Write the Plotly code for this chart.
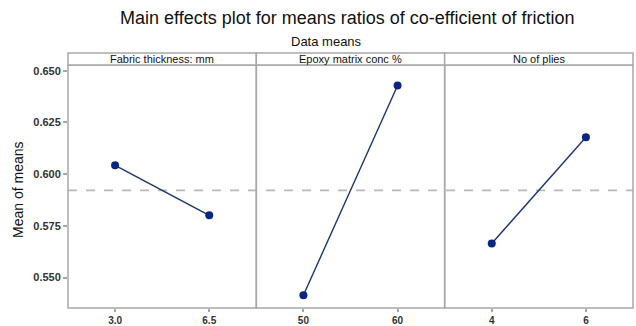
import plotly.graph_objects as go
from plotly.subplots import make_subplots

factors = ["Fabric thickness: mm", "Epoxy matrix conc %", "No of plies"]
levels = [[3.0, 6.5], [50, 60], [4, 6]]
level_labels = [["3.0", "6.5"], ["50", "60"], ["4", "6"]]
means = [[0.6043, 0.5801], [0.5415, 0.6429], [0.5665, 0.6179]]
y_ticks = [0.550, 0.575, 0.600, 0.625, 0.650]

grand_mean = sum(sum(m) for m in means) / sum(len(m) for m in means)

W, H = 636, 326
ml, mr, mt, mb = 68, 3, 65, 18
ph = H - mt - mb
pw = W - ml - mr

fig = make_subplots(rows=1, cols=3, shared_yaxes=True, horizontal_spacing=0)

border = "#a8a8a8"
tfont = dict(family="Liberation Sans", size=11, color="#333", weight="bold")
xfont = dict(family="Liberation Sans", size=10, color="#333", weight="bold")
for i in range(3):
    x = levels[i]
    d = x[1] - x[0]
    fig.add_trace(go.Scatter(
        x=x, y=means[i], mode="lines+markers",
        line=dict(color="#1c3570", width=1.4),
        marker=dict(color="#0b2680", size=8),
        showlegend=False), row=1, col=i + 1)
    fig.update_xaxes(domain=[i / 3, (i + 1) / 3],
                     range=[x[0] - d / 2, x[1] + d / 2], tickvals=x, ticktext=level_labels[i],
                     showgrid=False, zeroline=False, showline=False, automargin=False,
                     ticks="outside", ticklen=3, tickwidth=1.5,
                     tickcolor=border, tickfont=xfont, ticklabelstandoff=0,
                     row=1, col=i + 1)
    fig.update_yaxes(range=[0.5353, 0.6528], showgrid=False, zeroline=False, showline=False,
                     automargin=False, row=1, col=i + 1)

fig.update_yaxes(tickvals=y_ticks, tickformat=".3f", ticks="outside", ticklen=4, tickwidth=1.5,
                 tickcolor=border, tickfont=tfont, row=1, col=1)

# panel borders
for i in range(3):
    fig.add_shape(type="rect", xref="paper", yref="paper", x0=i / 3, x1=(i + 1) / 3, y0=0, y1=1,
                  line=dict(color=border, width=1.5), layer="above")

# reference line (grand mean)
fig.add_shape(type="line", xref="paper", yref="y", x0=0, x1=1, y0=grand_mean, y1=grand_mean,
              line=dict(color="#b8b8b8", width=1.6, dash="dash"), layer="below")

# header strips
strip_h = 12 / ph
for i in range(3):
    x0 = i / 3
    x1 = (i + 1) / 3
    fig.add_shape(type="rect", xref="paper", yref="paper", x0=x0, x1=x1, y0=1, y1=1 + strip_h,
                  line=dict(color=border, width=1.5), fillcolor="white")
    fig.add_annotation(xref="paper", yref="paper", x=(x0 + x1) / 2, y=1 + strip_h / 2,
                       text=factors[i], showarrow=False, xanchor="center", yanchor="middle",
                       font=dict(family="Liberation Sans", size=11, color="#111"))

fig.add_annotation(xref="paper", yref="paper", x=(347 - ml) / pw, y=1 + (mt - 18) / ph,
                   text="Main effects plot for means ratios of co-efficient of friction",
                   showarrow=False, xanchor="center", yanchor="middle",
                   font=dict(family="Liberation Sans", size=18, color="#111"))
fig.add_annotation(xref="paper", yref="paper", x=(326 - ml) / pw, y=1 + (mt - 41) / ph,
                   text="Data means", showarrow=False, xanchor="center", yanchor="middle",
                   font=dict(family="Liberation Sans", size=13, color="#111"))
fig.add_annotation(xref="paper", yref="paper", x=(18 - ml) / pw, y=1 - (190 - mt) / ph,
                   text="Mean of means", showarrow=False, textangle=-90,
                   xanchor="center", yanchor="middle",
                   font=dict(family="Liberation Sans", size=14, color="#111"))

fig.update_layout(width=W, height=H, margin=dict(l=ml, r=mr, t=mt, b=mb, autoexpand=False),
                  plot_bgcolor="white", paper_bgcolor="white")

fig.write_html("out.html")
